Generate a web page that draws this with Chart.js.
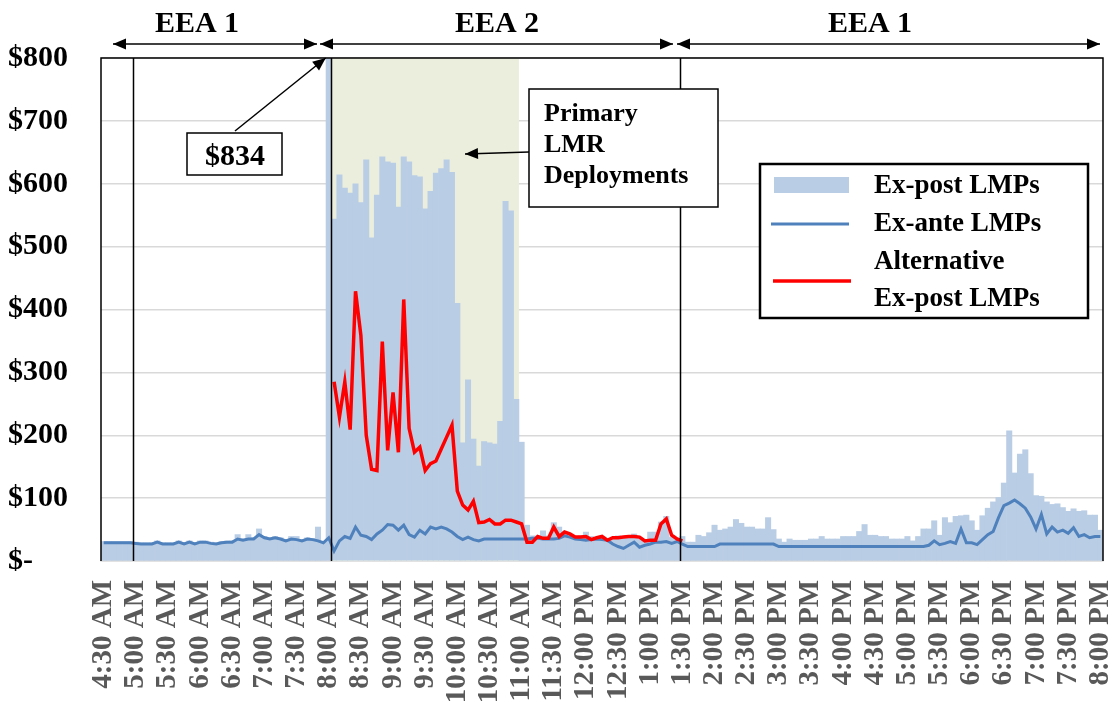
<!DOCTYPE html>
<html>
<head>
<meta charset="utf-8">
<script src="https://cdn.jsdelivr.net/npm/chart.js@4"></script>
<style>
  body { margin: 0; background: #fff; }
  canvas { display: block; }
</style>
</head>
<body>
<canvas id="lmpChart" width="1119" height="702"></canvas>
<script>
// 5-minute intervals, 4:30 AM to 8:00 PM
var times = [];
for (let m = 270; m <= 1200; m += 5) {
    let h = Math.floor(m / 60), mm = m % 60;
    let ap = h >= 12 ? 'PM' : 'AM';
    let h12 = h > 12 ? h - 12 : h;
    times.push(h12 + ':' + (mm < 10 ? '0' + mm : mm) + ' ' + ap);
}

// Ex-post LMPs
var exPost = [
    31,31,31,31,31,31,30,29,29,29,32,29,29,29,32,29,32,29,32,32,30,29,31,32,32,42,35,42,37,51,39,37,39,37,34,39,39,34,37,36,54,31,
    834,544,614,593,585,600,570,638,514,582,643,635,633,563,643,635,613,611,560,588,617,624,638,618,410,188,288,194,151,190,188,186,222,572,557,257,189,
    57,40,40,48,40,61,54,46,40,39,40,46,39,37,37,33,37,40,38,38,43,38,34,46,46,62,71,38,34,39,
    30,30,41,39,45,57,49,51,54,66,60,54,54,51,51,69,50,35,30,35,33,33,33,35,35,39,35,35,35,39,
    39,39,47,58,41,41,39,39,35,35,35,39,32,39,51,51,64,41,69,61,71,72,73,64,49,72,84,94,101,124,
    207,140,170,177,139,104,103,94,90,91,85,79,83,79,80,73,73,49
];

// Ex-ante LMPs
var exAnte = [
    29,29,29,29,29,29,28,27,27,27,30,27,27,27,30,27,30,27,30,30,28,27,29,30,30,35,33,35,35,42,37,35,37,35,32,35,34,32,35,34,32,29,
    37,16,32,39,36,54,41,39,34,43,49,58,57,49,57,42,38,49,43,54,51,54,51,46,39,34,38,34,32,35,35,35,35,35,35,35,35,
    35,36,36,35,35,35,36,40,38,35,34,33,34,35,34,33,27,23,20,25,30,22,25,27,30,30,31,28,31,27,
    23,23,23,23,23,23,27,27,27,27,27,27,27,27,27,27,27,
    23,23,23,23,23,23,23,23,23,23,23,23,23,23,23,23,23,23,23,23,23,23,23,23,23,23,23,23,25,
    32,26,28,31,28,51,29,29,26,34,42,47,69,88,92,97,91,84,70,51,74,43,54,46,49,44,53,39,42,37,39,39
];

// Alternative ex-post LMPs, only during EEA 2 (starts at 8:05 AM)
var altStart = 43;
var altValues = [
    285,229,285,209,429,359,200,146,144,349,176,268,173,416,211,173,181,144,155,159,
    178,197,216,111,89,81,95,61,62,66,59,59,65,65,62,59,30,30,39,36,
    36,54,39,46,43,38,38,39,34,37,39,33,37,37,38,39,39,38,32,33,
    33,59,67,41,35,32
];
var altExPost = [];
for (let i = 0; i < times.length; i++) {
    let j = i - altStart;
    altExPost.push(j >= 0 && j < altValues.length ? altValues[j] : null);
}

var yTicks = [0, 100, 200, 300, 400, 500, 600, 700, 800];
var eeaLabels = ['EEA 1', 'EEA 2', 'EEA 1'];
var eventLines = [5, 42, 107];      // vertical lines drawn after these intervals
var lmrRange = [42, 77];            // primary LMR deployments
var peakIndex = 42;
var peakLabel = '$834';
var legendLabels = ['Ex-post LMPs', 'Ex-ante LMPs', 'Alternative', 'Ex-post LMPs'];

var serif = "'Liberation Serif', 'Times New Roman', serif";
var barColor = '#B9CDE5';
var anteColor = '#4F81BD';
var altColor = '#FF0000';

function arrowHead(ctx, x1, y1, x2, y2, len, half) {
    let a = Math.atan2(y2 - y1, x2 - x1);
    ctx.beginPath();
    ctx.moveTo(x2, y2);
    ctx.lineTo(x2 - len * Math.cos(a) + half * Math.sin(a), y2 - len * Math.sin(a) - half * Math.cos(a));
    ctx.lineTo(x2 - len * Math.cos(a) - half * Math.sin(a), y2 - len * Math.sin(a) + half * Math.cos(a));
    ctx.closePath();
    ctx.fill();
}

function arrow(ctx, x1, y1, x2, y2, both) {
    ctx.beginPath();
    ctx.moveTo(x1, y1);
    ctx.lineTo(x2, y2);
    ctx.stroke();
    arrowHead(ctx, x1, y1, x2, y2, 13, 5.5);
    if (both) arrowHead(ctx, x2, y2, x1, y1, 13, 5.5);
}

var overlay = {
    id: 'overlay',
    beforeDatasetsDraw(chart) {
        let ctx = chart.ctx, x = chart.scales.x, a = chart.chartArea;
        let half = (x.getPixelForValue(1) - x.getPixelForValue(0)) / 2;
        ctx.save();
        ctx.fillStyle = '#EBEEDD';
        let x1 = x.getPixelForValue(lmrRange[0]) + half;
        let x2 = x.getPixelForValue(lmrRange[1]) + half;
        ctx.fillRect(x1, a.top, x2 - x1, a.bottom - a.top);
        ctx.restore();
    },
    afterDatasetsDraw(chart) {
        let ctx = chart.ctx, x = chart.scales.x, a = chart.chartArea;
        let half = (x.getPixelForValue(1) - x.getPixelForValue(0)) / 2;
        ctx.save();
        ctx.strokeStyle = '#000';
        ctx.fillStyle = '#000';

        // plot frame
        ctx.lineWidth = 1.5;
        ctx.beginPath();
        ctx.moveTo(a.left, a.bottom);
        ctx.lineTo(a.left, a.top);
        ctx.lineTo(a.right, a.top);
        ctx.lineTo(a.right, a.bottom);
        ctx.stroke();

        // event lines
        eventLines.forEach(function (i) {
            let px = Math.round(x.getPixelForValue(i) + half) + 0.5;
            ctx.beginPath();
            ctx.moveTo(px, a.top);
            ctx.lineTo(px, a.bottom);
            ctx.stroke();
        });

        // EEA periods
        ctx.lineWidth = 1.5;
        arrow(ctx, 113, 44, 317, 44, true);
        arrow(ctx, 320, 44, 673, 44, true);
        arrow(ctx, 677, 44, 1100, 44, true);
        ctx.font = 'bold 30px ' + serif;
        ctx.textAlign = 'center';
        ctx.textBaseline = 'alphabetic';
        ctx.fillText(eeaLabels[0], 197, 32);
        ctx.fillText(eeaLabels[1], 497, 32);
        ctx.fillText(eeaLabels[2], 870, 32);

        // $834 callout
        ctx.lineWidth = 1.5;
        arrow(ctx, 235, 131, x.getPixelForValue(peakIndex) - 3, a.top, false);
        ctx.fillStyle = '#fff';
        ctx.fillRect(187, 133, 95, 42);
        ctx.strokeRect(187, 133, 95, 42);
        ctx.fillStyle = '#000';
        ctx.font = 'bold 30px ' + serif;
        ctx.fillText(peakLabel, 235, 165);

        // Primary LMR box
        ctx.lineWidth = 1.5;
        arrow(ctx, 529, 152, 465, 154, false);
        ctx.fillStyle = '#fff';
        ctx.fillRect(529, 89, 189, 118);
        ctx.strokeRect(529, 89, 189, 118);
        ctx.fillStyle = '#000';
        ctx.font = 'bold 26px ' + serif;
        ctx.textAlign = 'left';
        ctx.fillText('Primary', 544, 121);
        ctx.fillText('LMR', 544, 152);
        ctx.fillText('Deployments', 544, 183);

        // legend
        ctx.fillStyle = '#fff';
        ctx.fillRect(760, 164, 328, 154);
        ctx.lineWidth = 2.5;
        ctx.strokeRect(760, 164, 328, 154);
        ctx.fillStyle = barColor;
        ctx.fillRect(774, 177, 75, 16);
        ctx.lineWidth = 3;
        ctx.strokeStyle = anteColor;
        ctx.beginPath(); ctx.moveTo(771, 224); ctx.lineTo(849, 224); ctx.stroke();
        ctx.lineWidth = 3.5;
        ctx.strokeStyle = altColor;
        ctx.beginPath(); ctx.moveTo(773, 281); ctx.lineTo(851, 281); ctx.stroke();
        ctx.fillStyle = '#000';
        ctx.font = 'bold 27px ' + serif;
        ctx.fillText(legendLabels[0], 874, 193);
        ctx.fillText(legendLabels[1], 874, 231);
        ctx.fillText(legendLabels[2], 874, 269);
        ctx.fillText(legendLabels[3], 874, 306);
        ctx.restore();
    }
};

new Chart(document.getElementById('lmpChart'), {
    type: 'bar',
    data: {
        labels: times,
        datasets: [
            {
                type: 'line',
                label: 'Alternative Ex-post LMPs',
                data: altExPost,
                borderColor: altColor,
                borderWidth: 3.5,
                pointRadius: 0,
                tension: 0,
                order: 0
            },
            {
                type: 'line',
                label: 'Ex-ante LMPs',
                data: exAnte,
                borderColor: anteColor,
                borderWidth: 3,
                pointRadius: 0,
                tension: 0,
                order: 1
            },
            {
                label: 'Ex-post LMPs',
                data: exPost,
                backgroundColor: barColor,
                categoryPercentage: 1,
                barPercentage: 1,
                order: 2
            }
        ]
    },
    options: {
        responsive: false,
        animation: false,
        layout: { padding: { top: 58, right: 16, left: 8, bottom: 0 } },
        plugins: {
            legend: { display: false },
            tooltip: { enabled: false }
        },
        scales: {
            x: {
                grid: { display: false, drawTicks: false },
                border: { color: '#D9D9D9', width: 1.5 },
                ticks: {
                    autoSkip: false,
                    minRotation: 90,
                    maxRotation: 90,
                    padding: 19,
                    color: '#595959',
                    font: { family: serif, weight: 'bold', size: 29 },
                    callback: function (v, i) { return i % 6 === 0 ? times[i] : null; }
                },
                afterFit: function (s) {
                    s.height = 141;
                    s.paddingLeft = 0;
                    s.paddingRight = 0;
                }
            },
            y: {
                min: 0,
                max: 800,
                afterBuildTicks: function (s) { s.ticks = yTicks.map(function (v) { return { value: v }; }); },
                grid: { color: '#D9D9D9', lineWidth: 1.5, drawTicks: false },
                border: { display: false },
                ticks: {
                    crossAlign: 'far',
                    color: '#000',
                    font: { family: serif, weight: 'bold', size: 30 },
                    callback: function (v) { return v === 0 ? '$-' : '$' + v; }
                },
                afterFit: function (s) { s.width = 93; }
            }
        }
    },
    plugins: [overlay]
});
</script>
</body>
</html>
